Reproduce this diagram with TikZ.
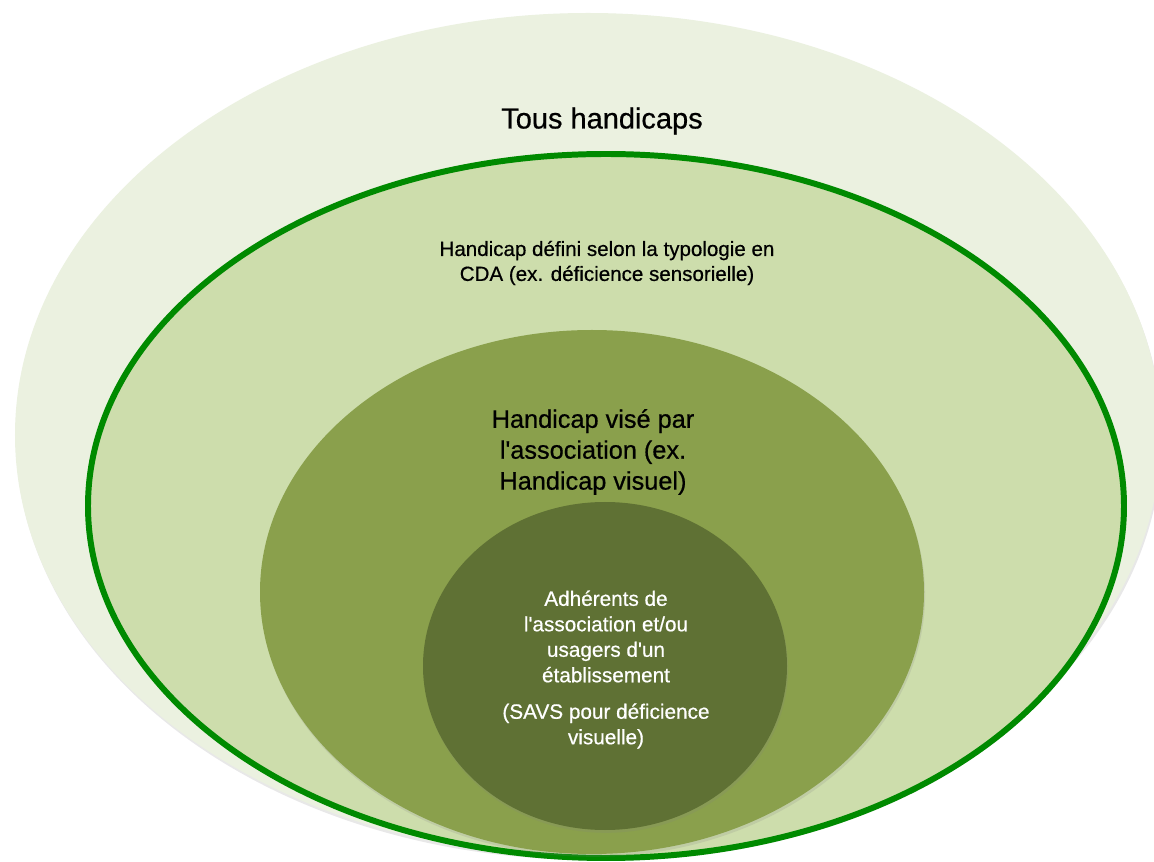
\documentclass[tikz,border=0pt]{standalone}
\usepackage{fontspec}
\setmainfont{Liberation Sans}[FakeBold=0.6]
\usepackage{tikz}
\usetikzlibrary{shapes.geometric,shadows}

\definecolor{allGreen}{HTML}{EBF1E0}
\definecolor{cdaGreen}{HTML}{CDDDAC}
\definecolor{ringGreen}{HTML}{008A00}
\definecolor{assocGreen}{HTML}{8AA04C}
\definecolor{userGreen}{HTML}{5F7134}

\begin{document}
\begin{tikzpicture}[
  zone/.style={ellipse, inner sep=0pt,
    drop shadow={opacity=0.18, shadow xshift=0.6pt, shadow yshift=-1.6pt}},
  label/.style={align=center, inner sep=0pt}]
\clip (0,0) rectangle (23.08,-17.24);
\fill [white] (0,0) rectangle (23.08,-17.24);

% nested zones
\node [zone, fill=allGreen, minimum width=22.92cm, minimum height=16.88cm] (all) at (11.76,-8.70) {};
\node [zone, fill=cdaGreen, draw=ringGreen, line width=3.4pt, minimum width=20.72cm, minimum height=14.08cm] (cda) at (12.12,-10.12) {};
\node [zone, fill=assocGreen, minimum width=13.28cm, minimum height=10.48cm] (assoc) at (11.84,-11.84) {};
\node [zone, fill=userGreen, minimum width=7.28cm, minimum height=6.56cm] (users) at (12.10,-13.32) {};

% texts
\node [label, font=\fontsize{16.5}{20}\selectfont] (alltext) at (12.04,-2.42) {Tous handicaps};
\node [label, font=\fontsize{11.7}{14.2}\selectfont] (cdatext) at (12.14,-5.26)
  {Handicap défini selon la typologie en\\CDA (ex. déficience sensorielle)};
\node [label, font=\fontsize{14.4}{17.6}\selectfont] (assoctext) at (11.86,-9.04)
  {Handicap visé par\\l\textquotesingle association (ex.\\Handicap visuel)};
\node [label, text=white, font=\fontsize{11.8}{14.5}\selectfont] (usertext) at (12.12,-12.73)
  {Adhérents de\\l\textquotesingle association et/ou\\usagers d\textquotesingle un\\établissement};
\node [label, text=white, font=\fontsize{11.8}{14.5}\selectfont] (savstext) at (12.12,-14.52)
  {(SAVS pour déficience\\visuelle)};
\end{tikzpicture}
\end{document}
